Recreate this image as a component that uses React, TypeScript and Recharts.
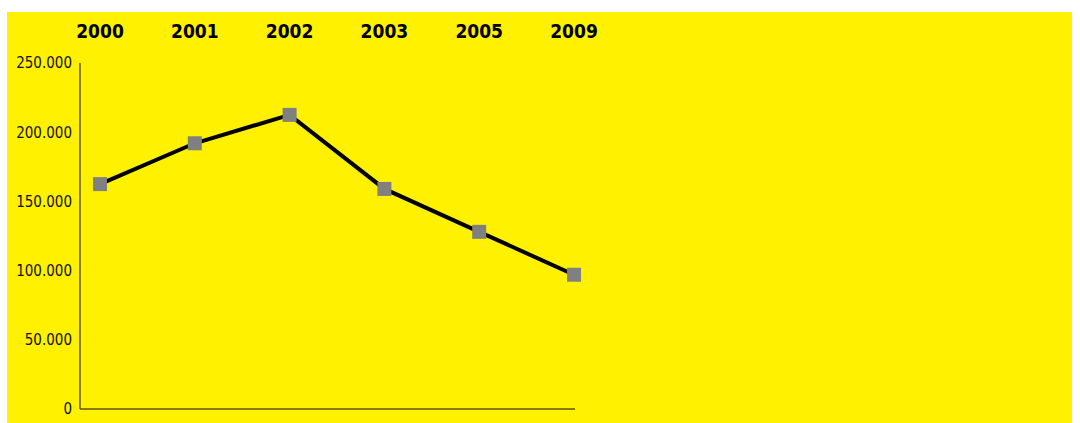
import { LineChart, Line, XAxis, YAxis } from "recharts";

const years = ["2000", "2001", "2002", "2003", "2005", "2009"];
const values = [162500, 192000, 212500, 159000, 128000, 97000];
const yTicks = [0, 50000, 100000, 150000, 200000, 250000];

const data = years.map((year, i) => ({ year, value: values[i] }));

const fmt = (v: number) => (v === 0 ? "0" : v.toLocaleString("de-DE"));

const SquareDot = (props: any) => {
  const { cx, cy, index } = props;
  if (cx == null || cy == null) return null;
  return <rect key={index} x={cx - 7} y={cy - 7} width={14} height={14} fill="#808080" />;
};

export default function App() {
  return (
    <div
      style={{
        position: "absolute",
        left: 7,
        top: 12,
        width: 1065,
        height: 411,
        background: "#fff100",
        fontFamily: "'DejaVu Sans Condensed', 'DejaVu Sans', sans-serif",
        fontStretch: "condensed",
      }}
    >
      <LineChart width={1065} height={411} data={data} margin={{ top: 0, right: 497, bottom: 0, left: 0 }}>
        <XAxis
          xAxisId="top"
          dataKey="year"
          orientation="top"
          height={51}
          padding={{ left: 20, right: 1 }}
          axisLine={false}
          tickLine={false}
          tickMargin={19}
          interval={0}
          tick={{ fill: "#000", fontSize: 19, fontWeight: 700 }}
        />
        <XAxis
          xAxisId="bottom"
          dataKey="year"
          orientation="bottom"
          height={14}
          padding={{ left: 20, right: 1 }}
          tick={false}
          tickLine={false}
          axisLine={{ stroke: "#5c5600", strokeWidth: 1.5 }}
        />
        <YAxis
          width={73}
          domain={[0, 250000]}
          ticks={yTicks}
          tickFormatter={fmt}
          tickLine={false}
          axisLine={{ stroke: "#5c5600", strokeWidth: 1.5 }}
          tick={{ fill: "#111", fontSize: 15 }}
        />
        <Line
          xAxisId="top"
          dataKey="value"
          stroke="#000"
          strokeWidth={4}
          dot={<SquareDot />}
          activeDot={false}
          isAnimationActive={false}
        />
      </LineChart>
    </div>
  );
}
